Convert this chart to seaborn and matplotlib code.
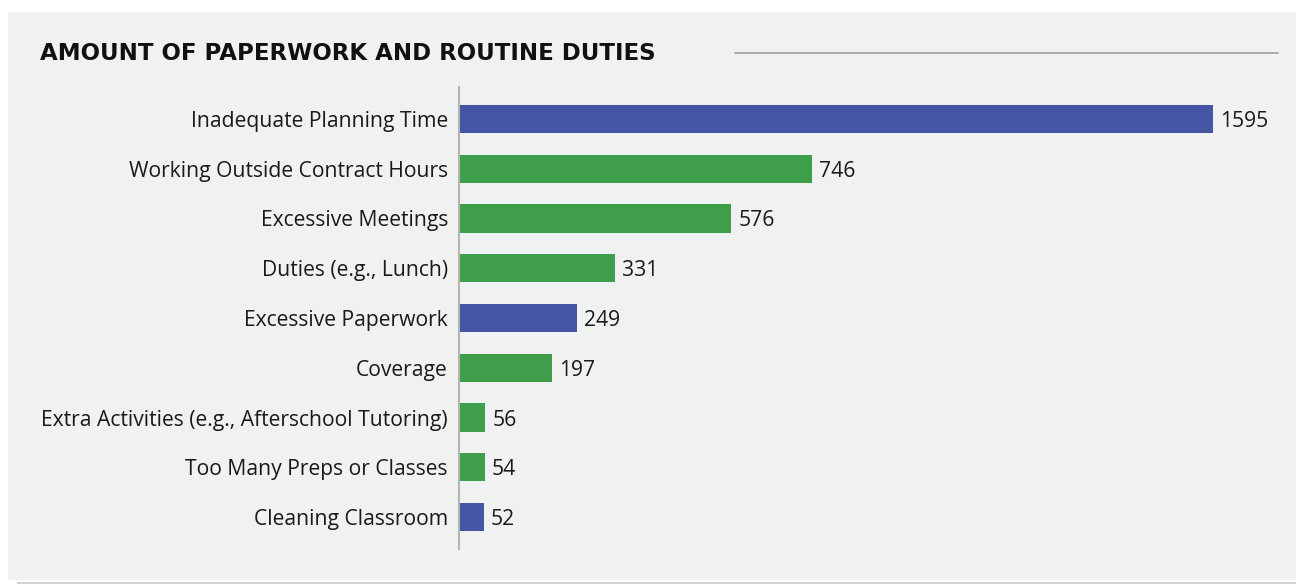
import matplotlib
matplotlib.use("Agg")
import matplotlib.pyplot as plt
import seaborn as sns
import pandas as pd
from matplotlib.patches import Rectangle
from matplotlib.lines import Line2D

categories = ["Inadequate Planning Time", "Working Outside Contract Hours", "Excessive Meetings",
              "Duties (e.g., Lunch)", "Excessive Paperwork", "Coverage",
              "Extra Activities (e.g., Afterschool Tutoring)", "Too Many Preps or Classes",
              "Cleaning Classroom"]
values = [1595, 746, 576, 331, 249, 197, 56, 54, 52]
groups = ["blue", "green", "green", "green", "blue", "green", "green", "green", "blue"]
title = "AMOUNT OF PAPERWORK AND ROUTINE DUTIES"

palette = {"blue": "#4455A3", "green": "#3E9E4A"}
bg = "#F0F1F1"

df = pd.DataFrame({"category": categories, "value": values, "group": groups})

sns.set_theme(style="white")
plt.rcParams['font.family'] = ['Open Sans', 'DejaVu Sans']

W, H = 1296, 584
fig = plt.figure(figsize=(W / 100, H / 100), dpi=100, facecolor="white")

# panel background
fig.patches.append(Rectangle((8 / W, (H - 580) / H), (W - 8) / W, (580 - 12) / H,
                             transform=fig.transFigure, facecolor=bg, edgecolor="none", zorder=-10))
fig.patches.append(Rectangle((17 / W, 0), (W - 17) / W, 2.5 / H,
                             transform=fig.transFigure, facecolor="#D2D3D4", edgecolor="none", zorder=-10))

ax_l, ax_r, ax_t, ax_b = 459, 1278, 87, 549
ax = fig.add_axes([ax_l / W, (H - ax_b) / H, (ax_r - ax_l) / W, (ax_b - ax_t) / H])
ax.set_facecolor(bg)
ax.set_zorder(1)

sns.barplot(data=df, y="category", x="value", hue="group", palette=palette, dodge=False,
            order=categories, legend=False, width=0.563, ax=ax, saturation=1, linewidth=0)

scale = (1213 - 459) / 1595
ax.set_xlim(0, (ax_r - ax_l) / scale)
d = 0.143
ax.set_ylim(len(categories) - 0.5 + d, -0.5 - d)

for cont in ax.containers:
    for t in ax.bar_label(cont, fmt="%d", padding=5, fontsize=15.2, color="#1a1a1a"):
        t.set_va("center_baseline")

ax.set_xlabel("")
ax.set_ylabel("")
ax.set_xticks([])
ax.tick_params(axis="y", length=0, pad=8, labelsize=15.2, labelcolor="#1a1a1a")
for s in ["top", "right", "bottom"]:
    ax.spines[s].set_visible(False)
ax.spines["left"].set_color("#B5B5B5")
ax.spines["left"].set_linewidth(1.5)

fig.text(40 / W, (H - 53) / H, title, fontsize=16.5, fontweight="bold", color="#111111",
         va="center", ha="left", family=['DejaVu Sans'])
fig.add_artist(Line2D([735 / W, 1278 / W], [(H - 53) / H] * 2, transform=fig.transFigure,
                      color="#A5A5A5", linewidth=1.3))

fig.savefig("out.png", dpi=100, facecolor="white")
